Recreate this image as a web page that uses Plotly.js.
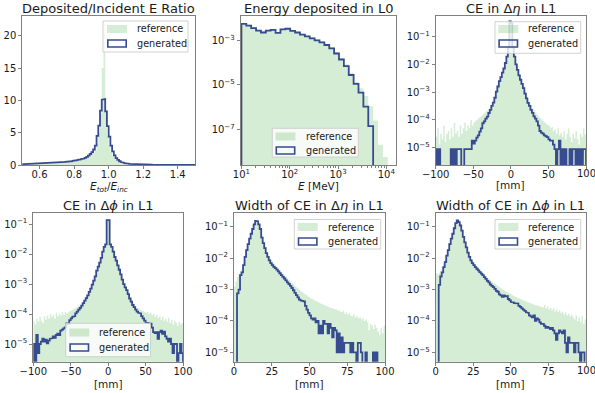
<!DOCTYPE html>
<html><head><meta charset="utf-8">
<script src="https://cdn.plot.ly/plotly-3.0.1.min.js"></script>
<style>html,body{margin:0;padding:0;background:#fff}#chart{width:595px;height:393px}</style>
</head><body><div id="chart"></div>
<script>
// ---------------- data ----------------
const panelTitles = ["Deposited/Incident E Ratio", "Energy deposited in L0", "CE in Δ<i>η</i> in L1",
  "CE in Δ<i>ϕ</i> in L1", "Width of CE in Δ<i>η</i> in L1", "Width of CE in Δ<i>ϕ</i> in L1"];
const axisTitles = ["<i>E</i><sub><i>tot</i></sub>/<i>E</i><sub><i>inc</i></sub>", "<i>E</i> [MeV]", "[mm]", "[mm]", "[mm]", "[mm]"];
const seriesNames = ["reference", "generated"];

// Panel 1: E ratio, bins 0.5..1.5 width 0.01
const ratioBinStart = 0.5, ratioBinWidth = 0.01;
const ratioRef = [
 0.10,0.11,0.12,0.12,0.13,0.14,0.15,0.16,0.17,0.18,
 0.19,0.20,0.21,0.22,0.23,0.25,0.26,0.28,0.29,0.31,
 0.33,0.35,0.37,0.39,0.41,0.44,0.47,0.50,0.53,0.57,
 0.61,0.65,0.70,0.75,0.80,0.87,0.95,1.05,1.20,1.35,
 1.55,1.85,2.30,3.20,5.00,8.00,15.0,22.0,8.50,4.50,
 3.00,2.00,1.40,1.00,0.75,0.55,0.42,0.33,0.27,0.22,
 0.18,0.15,0.13,0.11,0.10,0.09,0.08,0.07,0.065,0.06,
 0.055,0.05,0.046,0.042,0.039,0.036,0.033,0.031,0.029,0.027,
 0.025,0.024,0.022,0.021,0.02,0.019,0.018,0.017,0.016,0.015,
 0.014,0.013,0.013,0.012,0.011,0.011,0.01,0.01,0.009,0.009];
const ratioGen = [
 0.15,0.16,0.17,0.18,0.19,0.20,0.21,0.22,0.23,0.24,
 0.25,0.26,0.27,0.28,0.30,0.31,0.32,0.34,0.35,0.37,
 0.39,0.41,0.43,0.45,0.47,0.50,0.53,0.56,0.60,0.65,
 0.70,0.75,0.80,0.86,0.93,1.00,1.10,1.25,1.45,1.70,
 2.00,2.40,3.00,4.50,6.10,8.40,10.1,10.2,8.30,6.00,
 4.40,3.00,2.10,1.50,1.05,0.78,0.58,0.45,0.36,0.29,
 0.24,0.20,0.17,0.15,0.13,0.12,0.11,0.10,0.09,0.08,
 0.075,0.07,0.065,0.06,0.055,0.05,0.047,0.044,0.041,0.038,
 0.035,0.033,0.031,0.029,0.027,0.025,0.024,0.022,0.021,0.02,
 0.019,0.018,0.017,0.016,0.015,0.014,0.013,0.012,0.011,0.01];

// Panel 2: energy in L0, log bins from 10^1, width 0.101 decade
const eBinLogStart = 1.0, eBinLogWidth = 0.101;
const eRef = [
 6.2e-3,5.2e-3,4.0e-3,3.1e-3,2.55e-3,3.1e-3,3.3e-3,2.45e-3,3.5e-3,3.75e-3,
 3.0e-3,2.5e-3,2.05e-3,1.7e-3,1.4e-3,1.13e-3,9.2e-4,7.0e-4,5.0e-4,3.0e-4,
 1.65e-4,8.5e-5,3.5e-5,1.4e-5,7e-6,3.2e-6,1.1e-6,2.5e-7,2.0e-8,5.6e-9];
const eGen = [
 5.6e-3,4.7e-3,3.6e-3,2.8e-3,2.3e-3,2.8e-3,3.0e-3,2.2e-3,3.2e-3,3.4e-3,
 2.75e-3,2.3e-3,1.86e-3,1.55e-3,1.26e-3,1.02e-3,8.3e-4,6.3e-4,4.4e-4,2.6e-4,
 1.4e-4,7.1e-5,2.8e-5,1.12e-5,4.5e-6,1.05e-6,1.4e-7,0,0,0];

// Panels 3/4: centre of energy, bins -100..100 width 2 mm
const ceBinStart = -100, ceBinWidth = 2;
const etaRef = [
 2.5e-5,5e-5,1.3e-5,3.2e-5,2e-5,6.3e-5,1.6e-5,3.2e-5,4e-5,2e-5,
 5e-5,2.5e-5,7.9e-5,3.2e-5,4e-5,2.5e-5,6.3e-5,3.2e-5,5e-5,7.9e-5,
 4e-5,6.3e-5,5e-5,1e-4,6.3e-5,7.9e-5,8.9e-5,1e-4,1.12e-4,1.26e-4,
 1.41e-4,1.58e-4,1.78e-4,2e-4,2.14e-4,2.5e-4,3e-4,3.8e-4,5e-4,7.1e-4,
 1.12e-3,1.66e-3,2.6e-3,3.7e-3,5.2e-3,7.6e-3,1.2e-2,2.1e-2,4.5e-2,0.4,
 0.35,4.5e-2,2.1e-2,1.12e-2,7.1e-3,4.5e-3,3.2e-3,2.2e-3,1.6e-3,1.05e-3,
 7.6e-4,5.4e-4,4.2e-4,3.3e-4,2.6e-4,2.2e-4,1.9e-4,1.6e-4,1.35e-4,1.17e-4,
 1.05e-4,9.3e-5,8.3e-5,7.4e-5,6.6e-5,6.3e-5,5e-5,5.6e-5,4e-5,4.5e-5,
 3.2e-5,5e-5,2.8e-5,3.5e-5,2.5e-5,4e-5,2e-5,3.2e-5,5e-5,2.5e-5,
 1.6e-5,3.2e-5,2.2e-5,4e-5,2e-5,1.3e-5,3.2e-5,2.5e-5,5e-5,3e-5];
const etaGen = [
 9e-6,0,9e-6,0,0,0,0,0,0,0,
 9e-6,0,9e-6,0,9e-6,9e-6,9e-6,0,0,9e-6,
 9e-6,9e-6,9e-6,9e-6,1.8e-5,1.4e-5,1.8e-5,2.3e-5,2.8e-5,3.8e-5,
 5e-5,7.6e-5,8.9e-5,1.12e-4,1.32e-4,1.78e-4,2.3e-4,3.2e-4,4.2e-4,6.3e-4,
 1.05e-3,1.6e-3,2.5e-3,3.5e-3,5e-3,7.1e-3,1.12e-2,1.9e-2,4e-2,0.35,
 0.3,4e-2,1.9e-2,1e-2,6.3e-3,4e-3,2.8e-3,2e-3,1.4e-3,8.9e-4,
 6e-4,4.1e-4,3.2e-4,2.3e-4,1.8e-4,1.35e-4,1.12e-4,8.9e-5,6.3e-5,4e-5,
 3.5e-5,3.2e-5,2.8e-5,2.6e-5,2.4e-5,2e-5,1.8e-5,1.8e-5,1.3e-5,9e-6,
 0,9e-6,1.8e-5,0,9e-6,0,9e-6,0,0,9e-6,
 0,9e-6,9e-6,0,9e-6,0,9e-6,0,9e-6,9e-6];
const phiRef = [
 6e-5,4.5e-5,7e-5,5.5e-5,8e-5,6e-5,5e-5,8.5e-5,6.5e-5,9e-5,
 7e-5,1e-4,8e-5,9.5e-5,7e-5,1.1e-4,8.5e-5,1e-4,9e-5,1.15e-4,
 9.5e-5,1.2e-4,1.05e-4,1.15e-4,1.25e-4,1.3e-4,1.4e-4,1.5e-4,1.6e-4,1.7e-4,
 1.85e-4,2e-4,2.3e-4,2.6e-4,3e-4,3.6e-4,4.4e-4,5.6e-4,7.2e-4,9.7e-4,
 1.3e-3,1.8e-3,2.7e-3,3.7e-3,5.1e-3,7.6e-3,1.2e-2,1.75e-2,2.15e-2,0.14,
 0.14,2.15e-2,1.75e-2,1.2e-2,8e-3,6e-3,4.2e-3,3.1e-3,2.2e-3,1.5e-3,
 1.05e-3,8e-4,6.5e-4,4.9e-4,3.7e-4,3e-4,2.5e-4,2.1e-4,1.8e-4,1.6e-4,
 1.5e-4,1.4e-4,1.3e-4,1.25e-4,1.15e-4,1.1e-4,1.2e-4,1e-4,1.1e-4,9e-5,
 1e-4,8e-5,9.5e-5,7.5e-5,8.5e-5,6.5e-5,8e-5,6e-5,7e-5,5.5e-5,
 7.5e-5,5e-5,6.5e-5,4.5e-5,6e-5,5e-5,4e-5,5.5e-5,4.5e-5,5e-5];
const phiGen = [
 1e-5,0,2e-5,5e-6,1e-5,1.2e-5,1.5e-5,1.2e-5,1.4e-5,1.05e-5,
 1.3e-5,1.5e-5,1.55e-5,1.8e-5,1.6e-5,2e-5,2.2e-5,2e-5,2.8e-5,3e-5,
 3.3e-5,3.6e-5,4.9e-5,4.6e-5,6.3e-5,7.2e-5,8.1e-5,8.5e-5,1.05e-4,1.2e-4,
 1.4e-4,1.6e-4,1.9e-4,2.3e-4,2.8e-4,3.4e-4,4.2e-4,5.5e-4,7e-4,9.5e-4,
 1.3e-3,1.8e-3,2.8e-3,3.8e-3,5.2e-3,7.5e-3,1.2e-2,1.75e-2,2.1e-2,0.135,
 0.135,2.1e-2,1.75e-2,1.2e-2,8e-3,6e-3,4.2e-3,3e-3,2.1e-3,1.4e-3,
 1.0e-3,7.8e-4,6.3e-4,4.6e-4,3.3e-4,2.6e-4,2e-4,1.7e-4,1.4e-4,1.2e-4,
 1.1e-4,1.05e-4,8.5e-5,7.2e-5,6e-5,5.2e-5,5e-5,4.9e-5,4.8e-5,3.5e-5,
 2.5e-5,2.3e-5,2.5e-5,1.5e-5,2.5e-5,2.8e-5,2.2e-5,2.6e-5,1.8e-5,1.5e-5,
 1.2e-5,1.5e-5,1e-5,5e-6,1e-5,1e-5,0,5e-6,1e-5,5e-6];

// Panels 5/6: widths, bins 0..100 width 1 mm
const wBinStart = 0, wBinWidth = 1;
const wEtaRef = [
 1.2e-3,1.8e-3,2.5e-3,3e-3,4e-3,5e-3,7e-3,1.1e-2,1.7e-2,2.6e-2,
 3.9e-2,5.6e-2,8.2e-2,0.115,0.15,0.145,0.115,8.2e-2,5e-2,3.4e-2,
 2.3e-2,1.65e-2,1.3e-2,1.05e-2,8.8e-3,7.6e-3,6.7e-3,5.9e-3,5.2e-3,4.6e-3,
 4.1e-3,3.6e-3,3.2e-3,2.85e-3,2.55e-3,2.25e-3,2e-3,1.8e-3,1.6e-3,1.45e-3,
 1.3e-3,1.18e-3,1.07e-3,9.7e-4,8.9e-4,8.2e-4,7.5e-4,6.9e-4,6.4e-4,5.9e-4,
 5.5e-4,5.1e-4,4.8e-4,4.5e-4,4.3e-4,4e-4,3.8e-4,3.6e-4,3.4e-4,3.3e-4,
 3.1e-4,3e-4,2.85e-4,2.7e-4,2.6e-4,2.5e-4,2.4e-4,2.3e-4,2.2e-4,2.1e-4,
 2e-4,1.9e-4,2.1e-4,1.7e-4,1.9e-4,1.6e-4,1.8e-4,1.5e-4,1.4e-4,1.6e-4,
 1.3e-4,1.4e-4,1.2e-4,1.3e-4,1.1e-4,1.2e-4,1e-4,1.1e-4,9e-5,5e-5,
 8e-5,7e-5,5.5e-5,7.5e-5,6e-5,4.5e-5,3.5e-5,6e-5,4e-5,7e-5];
const wEtaGen = [
 0,0,7.6e-4,1e-3,2.9e-3,3.5e-3,6e-3,1.1e-2,1.8e-2,2.8e-2,
 4.2e-2,6e-2,8.5e-2,0.12,0.155,0.15,0.12,8.5e-2,4.5e-2,3e-2,
 2.1e-2,1.45e-2,1.1e-2,8.5e-3,7e-3,6e-3,5.3e-3,4.8e-3,4.3e-3,3.8e-3,
 3.3e-3,2.9e-3,2.55e-3,2.25e-3,1.95e-3,1.7e-3,1.5e-3,1.3e-3,1.12e-3,9.5e-4,
 7.8e-4,6.6e-4,5.6e-4,4.8e-4,4.5e-4,4.3e-4,4.2e-4,3e-4,2.3e-4,1.8e-4,
 1.5e-4,1.2e-4,1.1e-4,1.2e-4,9e-5,1e-4,4e-5,7e-5,4e-5,1e-4,
 8e-5,8e-5,4e-5,8e-5,6e-5,3e-5,6e-5,5e-5,1e-5,4e-5,
 1e-5,3e-5,1e-5,2e-5,2e-5,2e-5,2e-5,1e-5,2e-5,1e-5,
 1e-5,0,2e-5,2e-5,1e-5,0,0,1e-5,0,0,
 0,0,1e-5,0,1e-5,0,0,0,0,0];
const wPhiRef = [
 3.3e-3,3e-3,3.4e-3,4e-3,5e-3,6.5e-3,9e-3,1.3e-2,1.9e-2,2.8e-2,
 4.1e-2,5.8e-2,8.8e-2,0.125,0.155,0.14,0.105,7.3e-2,4.8e-2,3.3e-2,
 2.3e-2,1.6e-2,1.2e-2,9.3e-3,7.7e-3,6.6e-3,5.8e-3,5.1e-3,4.6e-3,4.1e-3,
 3.7e-3,3.3e-3,3e-3,2.7e-3,2.4e-3,2.2e-3,2e-3,1.8e-3,1.65e-3,1.5e-3,
 1.4e-3,1.3e-3,1.2e-3,1.1e-3,1.02e-3,9.5e-4,8.9e-4,8.3e-4,7.8e-4,7.3e-4,
 6.9e-4,6.5e-4,6.1e-4,5.8e-4,5.5e-4,5.2e-4,5e-4,4.7e-4,4.5e-4,4.3e-4,
 4.1e-4,3.9e-4,3.8e-4,3.6e-4,3.5e-4,3.3e-4,3.2e-4,3.1e-4,3e-4,2.9e-4,
 2.8e-4,2.7e-4,3.2e-4,2.5e-4,2.9e-4,2.3e-4,2.6e-4,2.2e-4,2.5e-4,2e-4,
 2.3e-4,1.9e-4,2.2e-4,1.8e-4,2e-4,1.6e-4,1.9e-4,1.5e-4,1.7e-4,1.4e-4,
 1.6e-4,1.3e-4,1.1e-4,1.5e-4,1e-4,1.3e-4,9e-5,1.4e-4,8e-5,1.1e-4];
const wPhiGen = [
 0,0,1.4e-3,2.6e-3,3.5e-3,5.2e-3,7.5e-3,1.2e-2,1.8e-2,2.8e-2,
 4.2e-2,6e-2,9e-2,0.13,0.16,0.14,0.11,7.5e-2,4.8e-2,3.2e-2,
 2.2e-2,1.5e-2,1.1e-2,8.5e-3,7e-3,6e-3,5.2e-3,4.6e-3,4.1e-3,3.6e-3,
 3.2e-3,2.9e-3,2.5e-3,2.2e-3,1.9e-3,1.7e-3,1.45e-3,1.3e-3,1.2e-3,1.05e-3,
 9e-4,8.5e-4,7e-4,6.5e-4,5.8e-4,6.5e-4,6e-4,6.2e-4,5e-4,4.5e-4,
 4e-4,3.9e-4,3.7e-4,3.5e-4,3.6e-4,3e-4,2.8e-4,2.5e-4,2.3e-4,2.1e-4,
 1.9e-4,1.8e-4,1.5e-4,1.4e-4,1.3e-4,1.5e-4,1e-4,1.2e-4,1.1e-4,9e-5,
 8e-5,8e-5,7e-5,6e-5,6.5e-5,6e-5,5.5e-5,6e-5,5e-5,4e-5,
 2.5e-5,4e-5,5e-5,4.5e-5,4e-5,5e-5,2e-5,1e-5,3e-5,2e-5,
 2e-5,2e-5,1e-5,2e-5,2e-5,1e-5,0,1e-5,1e-5,0];

// tick labels
const ratioTicks = [0.6, 0.8, 1.0, 1.2, 1.4];
const ratioTickText = ["0.6", "0.8", "1.0", "1.2", "1.4"];
const countTicks = [0, 5, 10, 15, 20];
const energyTicks = [10, 100, 1000, 10000];
const energyTickText = ["10<sup>1</sup>", "10<sup>2</sup>", "10<sup>3</sup>", "10<sup>4</sup>"];
const energyDensTicks = [1e-3, 1e-5, 1e-7];
const energyDensTickText = ["10<sup>−3</sup>", "10<sup>−5</sup>", "10<sup>−7</sup>"];
const densTicks = [1e-1, 1e-2, 1e-3, 1e-4, 1e-5];
const densTickText = ["10<sup>−1</sup>", "10<sup>−2</sup>", "10<sup>−3</sup>", "10<sup>−4</sup>", "10<sup>−5</sup>"];
const ceTicks = [-100, -50, 0, 50, 100];
const ceTickText = ["−100", "−50", "0", "50", "100"];
const widthTicks = [0, 25, 50, 75, 100];
const widthTickText = ["0", "25", "50", "75", "100"];

// ---------------- drawing ----------------
const W = 595, H = 393;
const GREEN = 'rgba(44,160,44,0.2)';
const BLUE = '#374b91';
const FONT = 'DejaVu Sans, sans-serif';
const TXT = '#1a1a1a';
const FRAME = '#808080';

function linEdges(start, w, n) { const e = []; for (let i = 0; i <= n; i++) e.push(start + i * w); return e; }
function logEdges(start, w, n) { const e = []; for (let i = 0; i <= n; i++) e.push(Math.pow(10, start + i * w)); return e; }
function outline(edges, vals, floor) {
  const x = [edges[0]], y = [floor];
  for (let i = 0; i < vals.length; i++) {
    const v = vals[i] > 0 ? vals[i] : floor;
    x.push(edges[i], edges[i + 1]); y.push(v, v);
  }
  x.push(edges[vals.length]); y.push(floor);
  return { x, y };
}

// pixel boxes of each plot area [left, right, top, bottom]
const boxes = [
  [22.3, 195, 15.7, 165], [240.7, 395.5, 15.7, 165], [435.7, 586, 15.7, 165],
  [33.3, 183, 213.3, 361.7], [234, 385, 213.3, 361.7], [435.7, 586, 213.3, 361.7]];

const panels = [
  { ref: ratioRef, gen: ratioGen, edges: linEdges(ratioBinStart, ratioBinWidth, ratioRef.length), floor: 0 },
  { ref: eRef, gen: eGen, edges: logEdges(eBinLogStart, eBinLogWidth, eRef.length), floor: 1e-12 },
  { ref: etaRef, gen: etaGen, edges: linEdges(ceBinStart, ceBinWidth, etaRef.length), floor: 1e-12 },
  { ref: phiRef, gen: phiGen, edges: linEdges(ceBinStart, ceBinWidth, phiRef.length), floor: 1e-12 },
  { ref: wEtaRef, gen: wEtaGen, edges: linEdges(wBinStart, wBinWidth, wEtaRef.length), floor: 1e-12 },
  { ref: wPhiRef, gen: wPhiGen, edges: linEdges(wBinStart, wBinWidth, wPhiRef.length), floor: 1e-12 }];

const traces = [];
panels.forEach((p, i) => {
  const xa = i === 0 ? 'x' : 'x' + (i + 1), ya = i === 0 ? 'y' : 'y' + (i + 1);
  const r = outline(p.edges, p.ref, p.floor);
  traces.push({ type: 'scatter', mode: 'lines', x: r.x, y: r.y, fill: 'toself', fillcolor: GREEN,
    line: { width: 0, color: GREEN }, xaxis: xa, yaxis: ya, hoverinfo: 'skip', name: seriesNames[0] });
  const g = outline(p.edges, p.gen, p.floor);
  traces.push({ type: 'scatter', mode: 'lines', x: g.x, y: g.y, line: { width: 1.8, color: BLUE },
    xaxis: xa, yaxis: ya, hoverinfo: 'skip', name: seriesNames[1] });
});

const axBase = { showline: true, mirror: true, linecolor: FRAME, linewidth: 1, ticks: 'outside', ticklen: 3,
  tickwidth: 1, tickcolor: FRAME, showgrid: false, zeroline: false, fixedrange: true,
  ticklabeloverflow: 'allow', tickfont: { family: FONT, size: 10, color: TXT } };

const layout = { width: W, height: H, margin: { l: 0, r: 0, t: 0, b: 0 }, paper_bgcolor: '#fff',
  plot_bgcolor: '#fff', showlegend: false, shapes: [], annotations: [] };

const xdom = b => [b[0] / W, b[1] / W];
const ydom = b => [1 - b[3] / H, 1 - b[2] / H];

const minorE = [];
[10, 100, 1000, 10000].forEach(d => { for (let m = 2; m <= 9; m++) if (d * m < 15000) minorE.push(d * m); });

// the right-hand column's last x tick label sits at the page edge: it is drawn as an annotation
const edgeLabel = (texts) => texts.map((t, k) => k === texts.length - 1 ? ' ' : t);

const xSpecs = [
  { range: [0.5, 1.5], tickvals: ratioTicks, ticktext: ratioTickText },
  { type: 'log', range: [0.985, 4.19], tickvals: energyTicks, ticktext: energyTickText,
    minor: { tickmode: 'array', tickvals: minorE, ticks: 'outside', ticklen: 2, tickcolor: FRAME } },
  { range: [-100, 100], tickvals: ceTicks, ticktext: edgeLabel(ceTickText) },
  { range: [-100, 100], tickvals: ceTicks, ticktext: ceTickText },
  { range: [0, 100], tickvals: widthTicks, ticktext: widthTickText },
  { range: [0, 100], tickvals: widthTicks, ticktext: edgeLabel(widthTickText) }];
const ySpecs = [
  { range: [0, 23.1], tickvals: countTicks, ticktext: countTicks.map(String) },
  { type: 'log', range: [-8.61, -1.88], tickvals: energyDensTicks, ticktext: energyDensTickText },
  { type: 'log', range: [-5.62, -0.25], tickvals: densTicks, ticktext: densTickText },
  { type: 'log', range: [-5.59, -0.64], tickvals: densTicks, ticktext: densTickText },
  { type: 'log', range: [-5.3, -0.57], tickvals: densTicks, ticktext: densTickText },
  { type: 'log', range: [-5.3, -0.57], tickvals: densTicks, ticktext: densTickText }];

boxes.forEach((b, i) => {
  const s = i === 0 ? '' : String(i + 1);
  layout['xaxis' + s] = Object.assign({}, axBase, xSpecs[i], { domain: xdom(b), anchor: 'y' + s, tickmode: 'array', ticklabelstandoff: -3 });
  layout['yaxis' + s] = Object.assign({}, axBase, ySpecs[i], { domain: ydom(b), anchor: 'x' + s, tickmode: 'array' });
});

// edge tick labels for panels 3 and 6 (placed at the axis end, x = 100)
[[2, ceTickText[ceTickText.length - 1], 'x3', 'y3'], [5, widthTickText[widthTickText.length - 1], 'x6', 'y6']].forEach(([i, t, xa, ya]) => {
  layout.annotations.push({ xref: xa, yref: ya + ' domain', x: 100, y: 0, yshift: -8.5, xanchor: 'center', yanchor: 'middle',
    text: t, showarrow: false, font: { family: FONT, size: 10, color: TXT } });
});

// titles and axis labels
const titleY = [8.5, 8.5, 8.5, 205.5, 205.5, 205.5];
const xlabY = [187, 186, 185, 384, 384, 384];
boxes.forEach((b, i) => {
  const cx = (b[0] + b[1]) / 2;
  layout.annotations.push({ xref: 'paper', yref: 'paper', x: cx / W, y: 1 - titleY[i] / H, xanchor: 'center',
    yanchor: 'middle', text: panelTitles[i], showarrow: false, font: { family: FONT, size: 13, color: TXT } });
  layout.annotations.push({ xref: 'paper', yref: 'paper', x: cx / W, y: 1 - xlabY[i] / H, xanchor: 'center',
    yanchor: 'middle', text: axisTitles[i], showarrow: false, font: { family: FONT, size: 10.5, color: TXT } });
});

// legends: [boxL, boxT, boxR, boxB, patchL, row1Y, row2Y]
const legends = [
  [103, 21, 188, 52, 107, 29, 43.5],
  [272.3, 128.3, 358.3, 157, 275.5, 136.5, 150.5],
  [495, 21.7, 580.7, 53.3, 498.3, 29, 43.5],
  [65.7, 323.3, 150.5, 356.7, 69.3, 332.5, 347.5],
  [294.3, 219.5, 380.7, 249, 297.7, 227, 241.5],
  [495, 219.5, 580.7, 249, 498.3, 227, 241.5]];
legends.forEach(L => {
  const [bl, bt, br, bb, pl, r1, r2] = L;
  layout.shapes.push({ type: 'rect', xref: 'paper', yref: 'paper', x0: bl / W, x1: br / W, y0: 1 - bb / H, y1: 1 - bt / H,
    fillcolor: 'rgba(255,255,255,0.8)', line: { color: 'rgba(204,204,204,0.9)', width: 1 }, layer: 'above' });
  layout.shapes.push({ type: 'rect', xref: 'paper', yref: 'paper', x0: pl / W, x1: (pl + 20) / W,
    y0: 1 - (r1 + 4) / H, y1: 1 - (r1 - 4) / H, fillcolor: GREEN, line: { width: 0 }, layer: 'above' });
  layout.shapes.push({ type: 'rect', xref: 'paper', yref: 'paper', x0: (pl + 0.8) / W, x1: (pl + 19.2) / W,
    y0: 1 - (r2 + 3.5) / H, y1: 1 - (r2 - 3.5) / H, fillcolor: 'rgba(0,0,0,0)', line: { color: BLUE, width: 1.6 }, layer: 'above' });
  [r1, r2].forEach((ry, k) => layout.annotations.push({ xref: 'paper', yref: 'paper', x: (pl + 28) / W, y: 1 - ry / H,
    xanchor: 'left', yanchor: 'middle', text: seriesNames[k], showarrow: false,
    font: { family: FONT, size: 9.7, color: TXT } }));
});

Plotly.newPlot('chart', traces, layout, { staticPlot: true, displayModeBar: false });
</script>
</body></html>
